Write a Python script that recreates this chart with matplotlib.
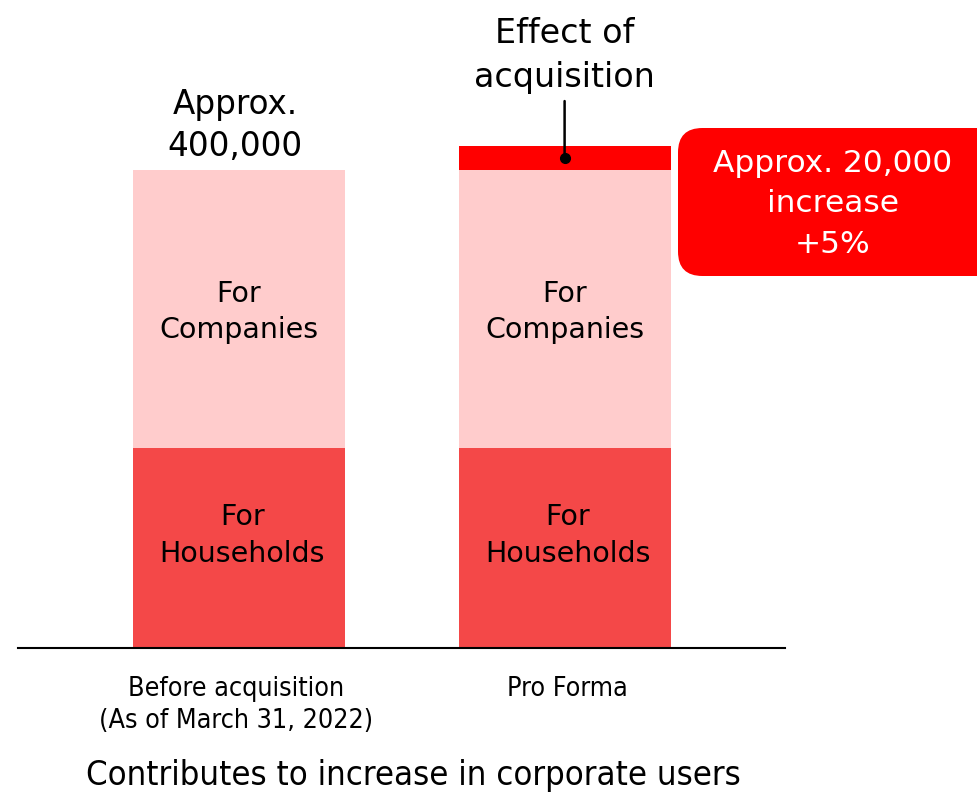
import matplotlib
matplotlib.use("Agg")
import matplotlib.pyplot as plt
from matplotlib.patches import FancyBboxPatch

categories = ["Before acquisition\n(As of March 31, 2022)", "Pro Forma"]
households = [167000, 167000]
companies = [233000, 233000]
effect = [0, 20000]
seg_labels = ["For\nHouseholds", "For\nCompanies"]
top_label = "Approx.\n400,000"
effect_label = "Effect of\nacquisition"
box_label = "Approx. 20,000\nincrease\n+5%"
footer = "Contributes to increase in corporate users"

c_house = "#F44848"
c_comp = "#FFCCCC"
c_eff = "#FF0000"

W, H = 977, 793
fig = plt.figure(figsize=(W / 100, H / 100), dpi=100)
fig.patch.set_facecolor("white")

ax = fig.add_axes([18 / W, 1 - 648 / H, 767 / W, 648 / H])
ax.set_xlim(-0.679, 1.677)
ax.set_ylim(0, 400000 * 648 / 478)
for s in ["top", "right", "left"]:
    ax.spines[s].set_visible(False)
ax.spines["bottom"].set_linewidth(1.5)
ax.set_yticks([])
ax.set_xticks([])

x = list(range(len(categories)))
bw = 0.651
ax.bar(x, households, width=bw, color=c_house, linewidth=0)
ax.bar(x, companies, width=bw, bottom=households, color=c_comp, linewidth=0)
tops = [h + c for h, c in zip(households, companies)]
ax.bar(x, effect, width=bw, bottom=tops, color=c_eff, linewidth=0)

font = ["DejaVu Sans"]
for i in x:
    ax.annotate(seg_labels[0], xy=(i + 0.01, households[i] / 2), xytext=(0, 9),
                textcoords="offset points", ha="center", va="center",
                fontsize=20.5, family=font, linespacing=1.4)
    ax.annotate(seg_labels[1], xy=(i, households[i] + companies[i] / 2), xytext=(0, -2),
                textcoords="offset points", ha="center", va="center",
                fontsize=20.5, family=font, linespacing=1.4)

ax.annotate(top_label, xy=(0, tops[0]), xytext=(-3, 5), textcoords="offset points",
            ha="center", va="bottom", fontsize=23.5, family=font, linespacing=1.35)

eff_mid = tops[1] + effect[1] / 2
ax.plot([1], [eff_mid], marker="o", color="black", markersize=7)
ax.annotate("", xy=(1, eff_mid), xytext=(1, eff_mid + 50000),
            arrowprops=dict(arrowstyle="-", color="black", lw=1.8))
ax.text(1, eff_mid + 54000, effect_label, ha="center", va="bottom",
        fontsize=24, family=font, linespacing=1.4)

box = FancyBboxPatch((678 / W, 1 - 276 / H), 330 / W, 148 / H,
                     boxstyle="round,pad=0,rounding_size=0.025",
                     transform=fig.transFigure, facecolor=c_eff, edgecolor="none",
                     mutation_aspect=W / H)
fig.patches.append(box)
fig.text(833 / W, 1 - 204 / H, box_label, ha="center", va="center", color="white",
         fontsize=22.5, family=font, linespacing=1.5)

for i, lab in enumerate(categories):
    ax.text(i - 0.01 + 0.02 * i, -0.043, lab, transform=ax.get_xaxis_transform(),
            ha="center", va="top", fontsize=19.3, family=font, fontstretch="condensed",
            linespacing=1.3)

fig.text(413 / W, 1 - 775 / H, footer, ha="center", va="center", fontsize=24.8,
         family=font, fontstretch="condensed")

fig.savefig("out.png", dpi=100, facecolor="white")
